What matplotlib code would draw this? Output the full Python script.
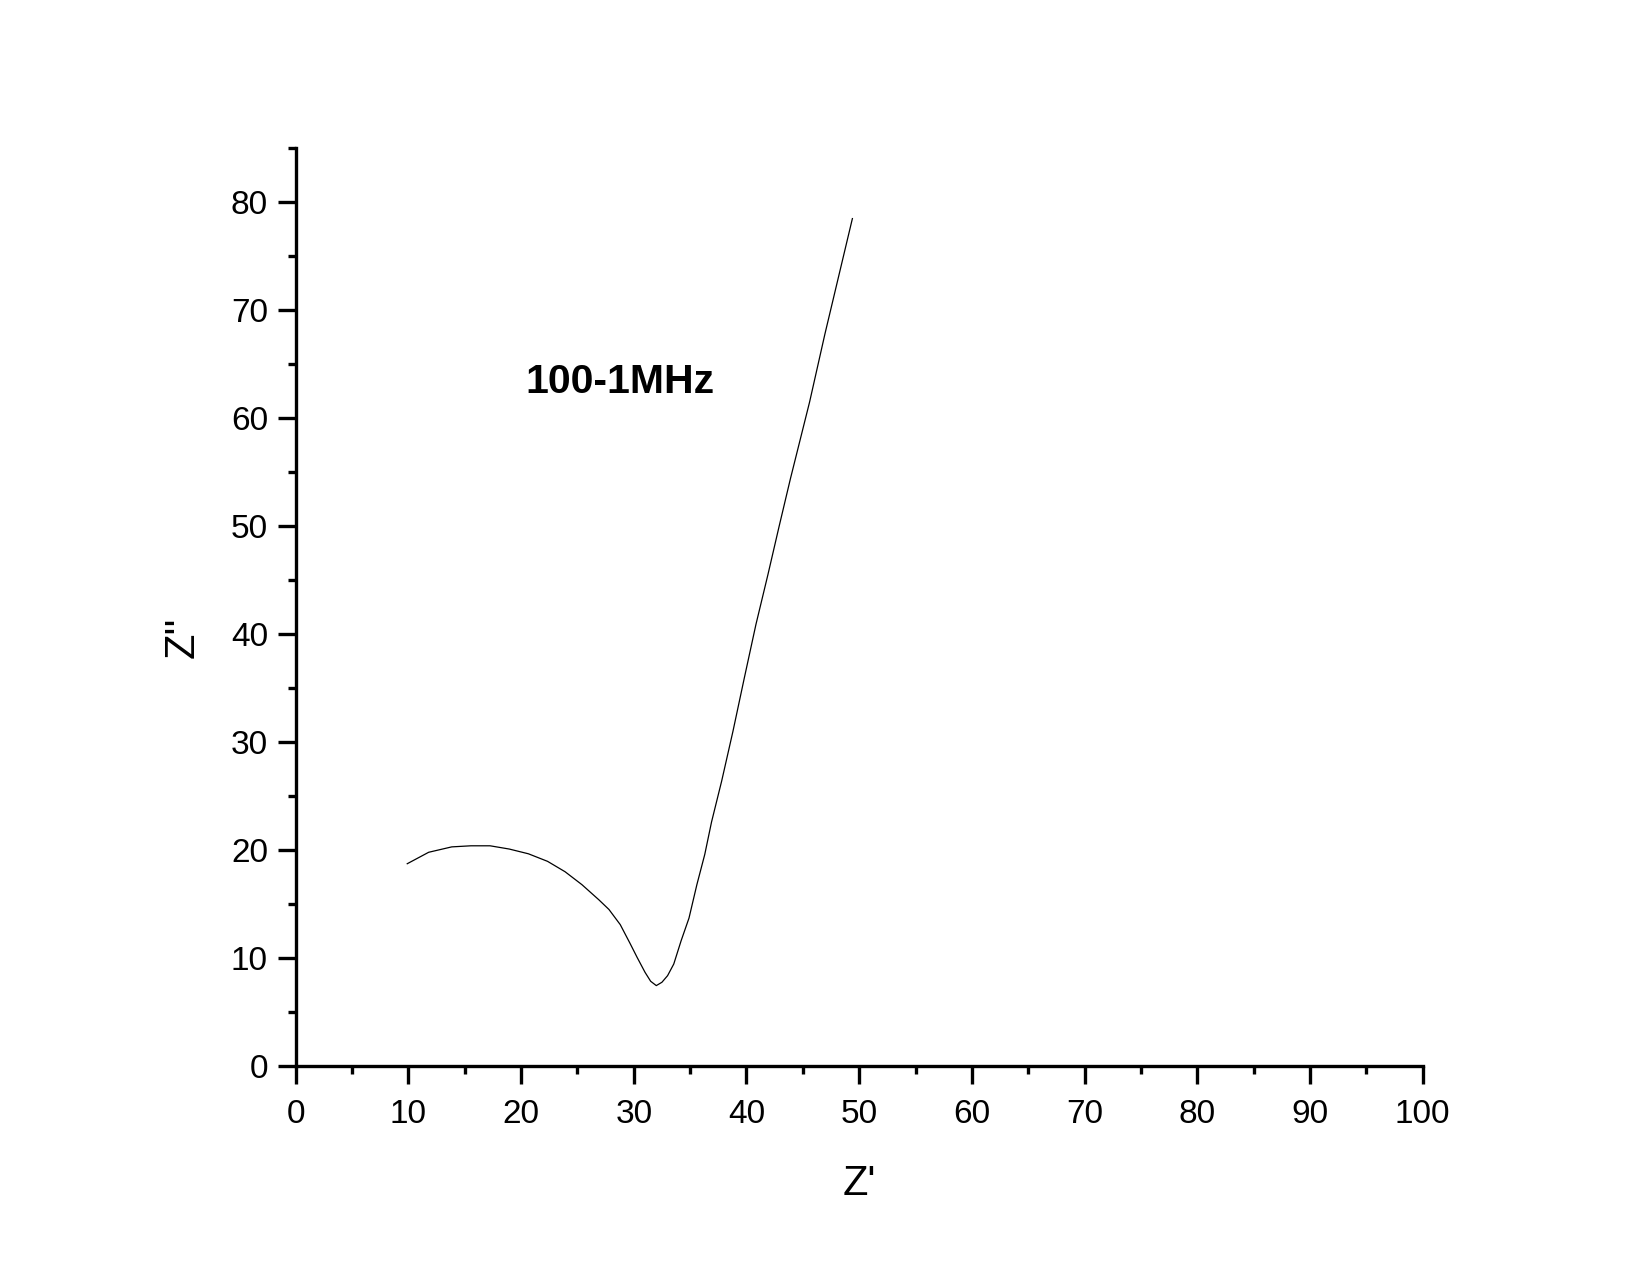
import matplotlib
matplotlib.use("Agg")
import matplotlib.pyplot as plt
from matplotlib.ticker import MultipleLocator

plt.rcParams['font.family'] = ['Liberation Sans', 'DejaVu Sans']

# Nyquist curve
z_real = [9.9, 11.8, 13.85, 15.55, 17.25, 18.95, 20.65, 22.35, 23.9, 25.4,
          26.9, 27.8, 28.8, 29.65, 30.3, 31.0, 31.5, 32.0, 32.5, 33.0,
          33.55, 34.2, 34.9, 35.6, 36.3, 36.9, 37.8, 38.8, 39.8, 40.84,
          41.9, 42.9, 43.9, 45.6, 46.96, 49.4]
z_imag = [18.74, 19.8, 20.3, 20.4, 20.4, 20.1, 19.66, 18.96, 18.0, 16.8,
          15.4, 14.5, 13.1, 11.4, 10.06, 8.68, 7.85, 7.45, 7.76, 8.37,
          9.45, 11.6, 13.7, 16.8, 19.6, 22.6, 26.4, 31.0, 35.9, 40.9,
          45.5, 50.0, 54.4, 61.5, 67.8, 78.5]

fig = plt.figure(figsize=(16.5, 12.75), dpi=100)
ax = fig.add_axes([0.1792, 0.1639, 0.683, 0.7197])

ax.plot(z_real, z_imag, color='black', lw=0.9)

ax.set_xlim(0, 100)
ax.set_ylim(0, 85)
ax.xaxis.set_major_locator(MultipleLocator(10))
ax.xaxis.set_minor_locator(MultipleLocator(5))
ax.yaxis.set_major_locator(MultipleLocator(10))
ax.yaxis.set_minor_locator(MultipleLocator(5))

for s in ['top', 'right']:
    ax.spines[s].set_visible(False)
for s in ['left', 'bottom']:
    ax.spines[s].set_linewidth(2.4)

ax.tick_params(which='major', direction='out', length=13, width=2.4,
               labelsize=24, pad=7)
ax.tick_params(axis='x', which='major', pad=11)
ax.tick_params(which='minor', direction='out', length=6, width=2.4)

ax.set_xlabel("Z'", fontsize=30)
ax.set_ylabel("Z''", fontsize=30)
ax.xaxis.set_label_coords(0.5, -0.1286)
ax.xaxis.label.set_va('center')
ax.yaxis.set_label_coords(-0.1, 0.4675)
ax.yaxis.label.set_va('center')

ax.text(20.4, 62.3, '100-1MHz', fontsize=29.5, fontweight='bold',
        ha='left', va='baseline')

fig.savefig('out.png', dpi=100)
